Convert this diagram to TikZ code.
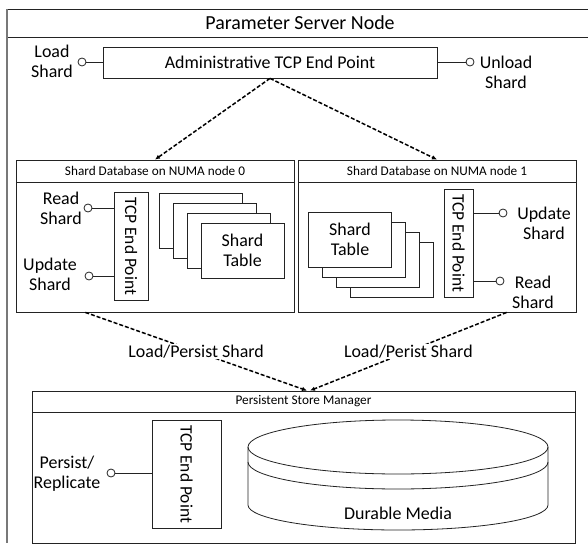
\documentclass[tikz,border=0pt]{standalone}
\usepackage{fontspec}
\setmainfont{Carlito}
\definecolor{boxline}{RGB}{35, 35, 35}
\definecolor{framegray}{RGB}{120, 120, 120}
\usetikzlibrary{arrows.meta, positioning, calc}

\begin{document}
\begin{tikzpicture}[x=1bp, y=-1bp,
  wire/.style={draw=boxline, line width=0.8bp},
  box/.style={wire, fill=white, inner sep=0pt},
  headbox/.style={wire, inner sep=0pt, font=\fontsize{13.3}{15}\selectfont},
  txt/.style={font=\fontsize{18}{20}\selectfont, align=center, inner sep=1bp},
  port/.style={circle, wire, fill=white, minimum size=8bp, inner sep=0pt},
  tcp/.style={box, font=\fontsize{17.5}{20}\selectfont},
  tablebox/.style={box, minimum width=83bp, minimum height=55bp, align=center, font=\fontsize{18}{20}\selectfont},
  flow/.style={draw=black, dash pattern=on 4bp off 2bp, line width=1.5bp, -{Latex[length=5bp, width=4.5bp]}}
]
  \useasboundingbox (0,0) rectangle (588,546);

  % Parameter server frame (open to the right and bottom)
  \draw[wire] (7,9) -- (588,9);
  \draw[wire] (7,37) -- (588,37);
  \draw[framegray, line width=1.5bp] (7,9) -- (7,543);
  \node[font=\fontsize{20}{22}\selectfont] (servertitle) at (300,23) {Parameter Server Node};

  % Administrative end point
  \node[box, minimum width=334bp, minimum height=31bp, font=\fontsize{18}{20}\selectfont] (admin) at (270,62.5) {Administrative TCP End Point};
  \node[port] (loadport) at (82,62) {};
  \node[txt] (loadlbl) at (52,61.5) {Load\\Shard};
  \draw[wire] (loadport) -- (loadport -| admin.west);
  \node[port] (unloadport) at (470,62) {};
  \node[txt] (unloadlbl) at (506,72) {Unload\\Shard};
  \draw[wire] (admin.east |- unloadport) -- (unloadport);

  % Shard database, NUMA node 0
  \node[box, minimum width=278bp, minimum height=152bp] (db0) at (155,236) {};
  \node[headbox, minimum width=278bp, minimum height=22bp, anchor=north] (db0head) at (db0.north) {Shard Database on NUMA node 0};
  \node[tcp, minimum width=34bp, minimum height=108bp] (tcp0) at (131,246) {\rotatebox{-90}{TCP End Point}};
  \node[port] (read0) at (88,208) {};
  \node[txt] (read0lbl) at (61,208) {Read\\Shard};
  \draw[wire] (read0) -- (read0 -| tcp0.west);
  \node[port] (update0) at (89,276) {};
  \node[txt] (update0lbl) at (50,274) {Update\\Shard};
  \draw[wire] (update0) -- (update0 -| tcp0.west);
  \foreach \i in {3,2,1} {
    \node[tablebox] (tab0\i) at ($(242.5,250.5)+(-14*\i,-10*\i)$) {};
  }
  \node[tablebox] (tab00) at (242.5,250.5) {Shard\\Table};

  % Shard database, NUMA node 1
  \node[box, minimum width=278bp, minimum height=152bp] (db1) at (437,236) {};
  \node[headbox, minimum width=278bp, minimum height=22bp, anchor=north] (db1head) at (db1.north) {Shard Database on NUMA node 1};
  \node[tcp, minimum width=29bp, minimum height=108bp] (tcp1) at (458.5,243) {\rotatebox{-90}{TCP End Point}};
  \node[port] (update1) at (503,213) {};
  \node[txt] (update1lbl) at (544,223) {Update\\Shard};
  \draw[wire] (tcp1.east |- update1) -- (update1);
  \node[port] (read1) at (500,281) {};
  \node[txt] (read1lbl) at (533,292) {Read\\Shard};
  \draw[wire] (tcp1.east |- read1) -- (read1);
  \foreach \i in {3,2,1} {
    \node[tablebox] (tab1\i) at ($(350,239.5)+(14*\i,10*\i)$) {};
  }
  \node[tablebox] (tab10) at (350,239.5) {Shard\\Table};

  % Persistent store manager
  \node[box, minimum width=543bp, minimum height=152bp] (store) at (303.5,467) {};
  \node[headbox, minimum width=543bp, minimum height=21bp, anchor=north] (storehead) at (store.north) {Persistent Store Manager};
  \node[tcp, minimum width=69bp, minimum height=108bp] (tcp2) at (186.5,474) {\rotatebox{-90}{TCP End Point}};
  \node[port] (persist) at (111,473) {};
  \node[txt, fill=white] (persistlbl) at (67,474) {Persist/\\Replicate};
  \draw[wire] (persist) -- (persist -| tcp2.west);

  % Durable media cylinder
  \draw[wire] (248,447) -- (248,505) arc[start angle=180, end angle=360, x radius=150bp, y radius=25bp] -- (548,447);
  \draw[wire] (398,447) ellipse [x radius=150bp, y radius=27bp];
  \draw[wire] (248,462) arc[start angle=180, end angle=360, x radius=150bp, y radius=27bp];
  \node[txt] (media) at (398,513) {Durable Media};

  % Flows
  \draw[flow] (admin.south) -- (db0.north);
  \draw[flow] (admin.south) -- (db1.north);
  \coordinate (db0out) at ($(db0.south west)!0.25!(db0.south east)$);
  \coordinate (db1out) at ($(db1.south west)!0.75!(db1.south east)$);
  \draw[flow] (db0out) -- node[txt, fill=white, inner sep=0.5bp] (persist0lbl) {Load/Persist Shard} ($(store.north)+(3.5,0)$);
  \draw[flow] (db1out) -- node[txt, fill=white, inner sep=0.5bp] (persist1lbl) {Load/Perist Shard} ($(store.north)+(6.5,0)$);
\end{tikzpicture}
\end{document}
